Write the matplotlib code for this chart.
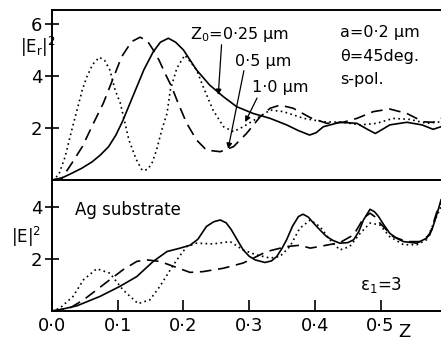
import numpy as np
import matplotlib.pyplot as plt

# |Er|^2 curves (top panel)
z_solid_r = [0.0, 0.015, 0.030, 0.045, 0.061, 0.073, 0.086, 0.097, 0.107, 0.117, 0.127, 0.140,
             0.154, 0.165, 0.177, 0.188, 0.200, 0.220, 0.240, 0.261, 0.281, 0.306, 0.332,
             0.357, 0.375, 0.392, 0.402, 0.413, 0.438, 0.464, 0.480, 0.492, 0.503, 0.514,
             0.540, 0.563, 0.580, 0.592]
er_solid = [0.0, 0.08, 0.26, 0.45, 0.70, 0.95, 1.28, 1.72, 2.24, 2.85, 3.46, 4.25,
            4.93, 5.30, 5.45, 5.30, 5.00, 4.23, 3.65, 3.20, 2.82, 2.56, 2.37,
            2.12, 1.90, 1.73, 1.82, 2.05, 2.22, 2.18, 1.95, 1.79, 1.95, 2.12,
            2.22, 2.12, 1.95, 2.05]

z_dash_r = [0.0, 0.015, 0.030, 0.046, 0.063, 0.078, 0.091, 0.106, 0.121, 0.134, 0.145, 0.154,
            0.163, 0.172, 0.182, 0.192, 0.205, 0.220, 0.235, 0.256, 0.276, 0.296, 0.317,
            0.332, 0.347, 0.367, 0.393, 0.418, 0.443, 0.464, 0.489, 0.514, 0.540, 0.565,
            0.580, 0.592]
er_dash = [0.0, 0.07, 0.64, 1.28, 2.18, 2.95, 3.78, 4.74, 5.32, 5.49, 5.35, 5.00,
           4.60, 4.10, 3.59, 2.95, 2.18, 1.54, 1.15, 1.09, 1.28, 1.79, 2.44,
           2.76, 2.88, 2.76, 2.40, 2.18, 2.22, 2.37, 2.63, 2.73, 2.56, 2.24,
           2.22, 2.37]

z_dot_r = [0.0, 0.010, 0.020, 0.030, 0.038, 0.046, 0.053, 0.062, 0.072, 0.080, 0.088, 0.096,
           0.104, 0.117, 0.128, 0.137, 0.145, 0.152, 0.159, 0.167, 0.175, 0.180, 0.190,
           0.202, 0.212, 0.220, 0.230, 0.245, 0.261, 0.276, 0.291, 0.312, 0.332, 0.352,
           0.383, 0.413, 0.443, 0.469, 0.494, 0.519, 0.545, 0.570, 0.592]
er_dot = [0.0, 0.19, 0.90, 1.92, 2.69, 3.46, 3.97, 4.45, 4.72, 4.60, 4.23, 3.46,
          2.95, 1.54, 0.80, 0.38, 0.40, 0.64, 1.15, 1.92, 2.56, 3.46, 4.30,
          4.80, 4.50, 4.23, 3.59, 2.69, 2.05, 1.86, 2.05, 2.37, 2.69, 2.63,
          2.37, 2.24, 2.22, 2.12, 2.18, 2.37, 2.33, 2.18, 2.24]

# |E|^2 curves (bottom panel)
z_solid_e = [0.0, 0.012, 0.038, 0.073, 0.103, 0.129, 0.154, 0.175, 0.195, 0.210, 0.222, 0.235,
             0.246, 0.256, 0.265, 0.273, 0.282, 0.291, 0.300, 0.309, 0.324, 0.334, 0.342,
             0.350, 0.357, 0.366, 0.375, 0.382, 0.390, 0.398, 0.408, 0.418, 0.428, 0.438,
             0.450, 0.459, 0.467, 0.474, 0.484, 0.491, 0.497, 0.505, 0.514, 0.525, 0.535,
             0.555, 0.570, 0.578, 0.583, 0.588, 0.592]
e_solid = [0.0, 0.05, 0.20, 0.56, 0.94, 1.32, 1.90, 2.28, 2.41, 2.52, 2.75, 3.24,
           3.42, 3.49, 3.38, 3.11, 2.72, 2.34, 2.10, 1.96, 1.86, 1.92, 2.09,
           2.40, 2.73, 3.25, 3.62, 3.71, 3.60, 3.37, 3.10, 2.85, 2.70, 2.60,
           2.62, 2.73, 3.05, 3.49, 3.90, 3.80, 3.62, 3.30, 2.98, 2.78, 2.66,
           2.60, 2.79, 3.10, 3.49, 3.90, 4.26]

z_dash_e = [0.0, 0.027, 0.048, 0.068, 0.088, 0.108, 0.129, 0.144, 0.164, 0.185, 0.210, 0.230,
            0.261, 0.291, 0.327, 0.357, 0.377, 0.393, 0.413, 0.438, 0.459, 0.467, 0.474,
            0.484, 0.491, 0.499, 0.519, 0.540, 0.560, 0.575, 0.585, 0.592]
e_dash = [0.0, 0.11, 0.43, 0.81, 1.20, 1.58, 1.90, 1.96, 1.90, 1.71, 1.48, 1.51,
          1.64, 1.84, 2.28, 2.47, 2.52, 2.41, 2.50, 2.62, 2.92, 3.25, 3.56,
          3.75, 3.62, 3.37, 2.85, 2.66, 2.66, 2.92, 3.75, 4.14]

z_dot_e = [0.0, 0.012, 0.032, 0.048, 0.068, 0.088, 0.108, 0.131, 0.149, 0.164, 0.180, 0.190,
           0.205, 0.220, 0.245, 0.271, 0.291, 0.311, 0.332, 0.347, 0.362, 0.377, 0.393,
           0.408, 0.423, 0.438, 0.453, 0.469, 0.484, 0.499, 0.514, 0.535, 0.555, 0.570,
           0.583, 0.592]
e_dot = [0.0, 0.11, 0.56, 1.20, 1.62, 1.45, 0.81, 0.28, 0.43, 0.94, 1.58, 1.96,
         2.47, 2.60, 2.57, 2.66, 2.34, 2.15, 2.03, 2.09, 2.47, 3.17, 3.49,
         3.23, 2.73, 2.34, 2.47, 2.98, 3.37, 3.30, 2.85, 2.54, 2.54, 2.73,
         3.49, 4.00]

x_ticks = [0.0, 0.1, 0.2, 0.3, 0.4, 0.5]
x_ticklabels = ['0·0', '0·1', '0·2', '0·3', '0·4', '0·5']

plt.rcParams['font.family'] = 'DejaVu Sans'
plt.rcParams['font.size'] = 12

fig = plt.figure(figsize=(4.41, 3.41), dpi=100)
ax1 = fig.add_axes([0.118, 0.472, 0.882, 0.499])
ax2 = fig.add_axes([0.118, 0.088, 0.882, 0.384])

dash = (0, (7, 4))
dot = (0, (1, 2))
lw = 1.2

ax1.plot(z_solid_r, er_solid, color='black', lw=lw)
ax1.plot(z_dash_r, er_dash, color='black', lw=lw, linestyle=dash)
ax1.plot(z_dot_r, er_dot, color='black', lw=lw, linestyle=dot)

ax2.plot(z_solid_e, e_solid, color='black', lw=lw)
ax2.plot(z_dash_e, e_dash, color='black', lw=lw, linestyle=dash)
ax2.plot(z_dot_e, e_dot, color='black', lw=lw, linestyle=dot)

for ax in (ax1, ax2):
    ax.set_xlim(0, 0.592)
    ax.spines['right'].set_visible(False)
    for s in ('left', 'top', 'bottom'):
        ax.spines[s].set_linewidth(1.4)
    ax.tick_params(axis='y', direction='inout', length=10, width=1.2, pad=2, labelsize=13)

ax1.set_ylim(0, 6.54)
ax1.set_yticks([2, 4, 6])
ax1.set_xticks([])

ax2.set_ylim(0, 5.02)
ax2.set_yticks([2, 4])
ax2.set_xticks(x_ticks)
ax2.set_xticklabels(x_ticklabels)
ax2.tick_params(axis='x', direction='in', length=8, width=1.2, pad=4, labelsize=13)

fig.text(0.045, 0.862, '|E$_\\mathregular{r}$|$^\\mathregular{2}$', fontsize=12, ha='left', va='center')
fig.text(0.025, 0.305, '|E|$^\\mathregular{2}$', fontsize=12, ha='left', va='center')
fig.text(0.918, 0.025, 'Z', fontsize=13, ha='center', va='center')

fs = 11.5
ax1.text(0.438, 5.69, 'a=0·2 μm', fontsize=fs, ha='left', va='center')
ax1.text(0.438, 4.73, 'θ=45deg.', fontsize=fs, ha='left', va='center')
ax1.text(0.438, 3.85, 's-pol.', fontsize=fs, ha='left', va='center')

arrow = dict(arrowstyle='-|>', color='black', lw=0.9, mutation_scale=8, shrinkA=0, shrinkB=0)
ax1.text(0.210, 5.58, 'Z$_\\mathregular{0}$=0·25 μm', fontsize=fs, ha='left', va='center')
ax1.annotate('', xy=(0.253, 3.27), xytext=(0.258, 5.2), arrowprops=arrow)
ax1.text(0.278, 4.54, '0·5 μm', fontsize=fs, ha='left', va='center')
ax1.annotate('', xy=(0.268, 1.20), xytext=(0.292, 4.2), arrowprops=arrow)
ax1.text(0.304, 3.54, '1·0 μm', fontsize=fs, ha='left', va='center')
ax1.annotate('', xy=(0.294, 2.23), xytext=(0.312, 3.15), arrowprops=arrow)

ax2.text(0.035, 3.86, 'Ag substrate', fontsize=12, ha='left', va='center')
ax2.text(0.469, 1.0, 'ε$_\\mathregular{1}$=3', fontsize=12, ha='left', va='center')

fig.savefig('out.png', dpi=100)
